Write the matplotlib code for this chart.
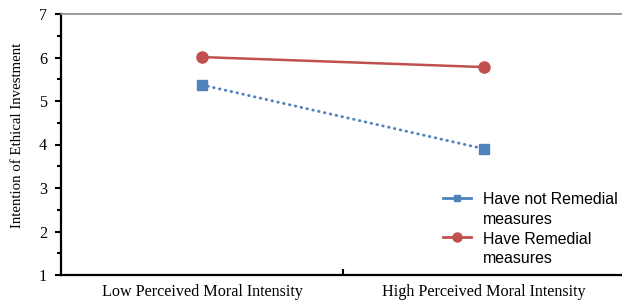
import matplotlib
matplotlib.use("Agg")
import matplotlib.pyplot as plt
from matplotlib.ticker import MultipleLocator, FixedLocator

categories = ["Low Perceived Moral Intensity", "High Perceived Moral Intensity"]
no_remedial = [5.37, 3.90]
with_remedial = [6.01, 5.78]
series_labels = ["Have not Remedial\nmeasures", "Have Remedial\nmeasures"]

W, H = 622, 302
fig = plt.figure(figsize=(W / 100, H / 100), dpi=100)
ax = fig.add_axes([61 / W, 27 / H, 564 / W, 261 / H])

x = list(range(len(categories)))
ax.plot(x, no_remedial, color="#4F81BD", linestyle=(0, (0.15, 1.9)), linewidth=2.1,
        dash_capstyle="round", marker="s", markersize=6.5, label=series_labels[0], zorder=3)
ax.plot(x, with_remedial, color="#C0504D", linestyle="-", linewidth=1.8,
        marker="o", markersize=8, label=series_labels[1], zorder=3)

ax.set_xlim(-0.5, 1.5)
ax.set_ylim(1, 7)

serif = ["Liberation Serif", "DejaVu Serif"]
ax.set_xticks(x)
ax.set_xticklabels(categories, fontfamily=serif, fontsize=11.6)
ax.xaxis.set_minor_locator(FixedLocator([0.5]))
ax.tick_params(axis="x", which="major", length=0, pad=6.5)
ax.tick_params(axis="x", which="minor", direction="in", length=4, width=1.5)

ax.yaxis.set_major_locator(MultipleLocator(1))
ax.yaxis.set_minor_locator(MultipleLocator(0.5))
ax.tick_params(axis="y", which="major", direction="out", length=4, width=1.5, pad=6)
ax.tick_params(axis="y", which="minor", direction="out", length=3, width=1.5)
for lab in ax.get_yticklabels():
    lab.set_fontfamily(serif)
    lab.set_fontsize(11.6)
ax.set_ylabel("Intention of Ethical Investment", fontfamily=serif, fontsize=10.7)
ax.yaxis.set_label_coords(-0.066, 0.536)

ax.spines["left"].set_linewidth(1.6)
ax.spines["bottom"].set_linewidth(1.6)
ax.spines["top"].set_color("#8C8C8C")
ax.spines["top"].set_linewidth(1.2)
ax.spines["right"].set_visible(False)

leg = ax.legend(loc="upper left", bbox_to_anchor=(443 / W, 1 - 192 / H),
                bbox_transform=fig.transFigure, frameon=False,
                prop={"family": ["Liberation Sans", "DejaVu Sans"], "size": 11.4},
                handlelength=1.75, handletextpad=0.75, labelspacing=0.3,
                borderpad=0, borderaxespad=0)
for t in leg.get_texts():
    t.set_linespacing(1.4)
for h, ms in zip(leg.legend_handles, [4.5, 6.5]):
    h.set_linestyle("-")
    h.set_linewidth(2.0)
    h.set_markersize(ms)
for col in leg._legend_handle_box.get_children():
    for item in col.get_children():
        item.align = "top"

fig.savefig("out.png", dpi=100)
